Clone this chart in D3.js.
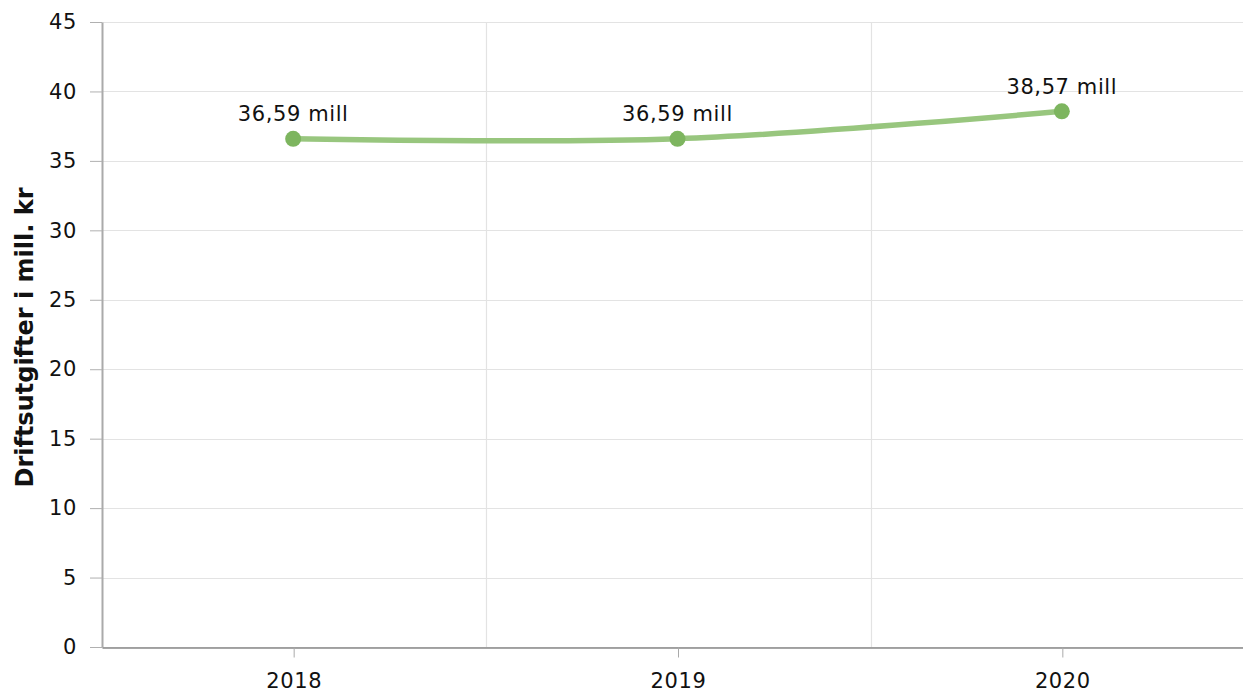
<!DOCTYPE html>
<html>
<head>
<meta charset="utf-8">
<script src="https://cdn.jsdelivr.net/npm/d3@7"></script>
<style>
  body { margin: 0; background: #fff; }
  svg { display: block; font-family: "DejaVu Sans", Verdana, sans-serif; }
</style>
</head>
<body>
<div id="chart"></div>
<script>
// Data
const years = ["2018", "2019", "2020"];
const values = [36.59, 36.59, 38.57];
const labels = ["36,59 mill", "36,59 mill", "38,57 mill"];
const yTicks = [0, 5, 10, 15, 20, 25, 30, 35, 40, 45];

const width = 1243;
const height = 693;
const margin = { top: 22, right: -12, bottom: 46, left: 102 };
const fontSize = 21;
const spacing = 0.6;

const x = d3.scaleBand()
    .domain(years)
    .range([margin.left, width - margin.right]);

const y = d3.scaleLinear()
    .domain([0, 45])
    .range([height - margin.bottom, margin.top]);

const svg = d3.select("#chart").append("svg")
    .attr("width", width)
    .attr("height", height);

// Horizontal grid lines
svg.append("g")
    .selectAll("line")
    .data(yTicks)
    .join("line")
    .attr("x1", margin.left)
    .attr("x2", width)
    .attr("y1", d => Math.round(y(d)) + 0.5)
    .attr("y2", d => Math.round(y(d)) + 0.5)
    .attr("stroke", "#e3e3e3")
    .attr("stroke-width", 1.2);

// Vertical grid lines at band boundaries
svg.append("g")
    .selectAll("line")
    .data(years.slice(1))
    .join("line")
    .attr("x1", d => Math.round(x(d)) + 0.5)
    .attr("x2", d => Math.round(x(d)) + 0.5)
    .attr("y1", margin.top)
    .attr("y2", y(0))
    .attr("stroke", "#e3e3e3")
    .attr("stroke-width", 1.2);

// Y axis
const yAxis = svg.append("g")
    .attr("transform", `translate(${margin.left},0)`)
    .call(d3.axisLeft(y).tickValues(yTicks).tickSize(12).tickPadding(13).tickSizeOuter(0));
yAxis.select(".domain").attr("stroke", "#aaa").attr("stroke-width", 2);
yAxis.selectAll(".tick line").attr("stroke", "#b0b0b0");
yAxis.selectAll(".tick text")
    .attr("font-size", fontSize)
    .attr("letter-spacing", spacing)
    .attr("font-family", "DejaVu Sans, Verdana, sans-serif")
    .attr("fill", "#111");

// X axis
const xAxis = svg.append("g")
    .attr("transform", `translate(0,${Math.round(y(0)) + 0.5})`)
    .call(d3.axisBottom(x).tickSize(10).tickPadding(16).tickSizeOuter(0));
xAxis.select(".domain").attr("stroke", "#888").attr("stroke-width", 1.5);
xAxis.selectAll(".tick line").attr("stroke", "#aaa");
xAxis.selectAll(".tick text")
    .attr("font-size", fontSize)
    .attr("letter-spacing", spacing)
    .attr("font-family", "DejaVu Sans, Verdana, sans-serif")
    .attr("fill", "#111");

// Y axis title
svg.append("text")
    .attr("transform", `translate(33,${(y(0) + y(45)) / 2 + 3}) rotate(-90)`)
    .attr("text-anchor", "middle")
    .attr("font-size", 24)
    .attr("font-weight", "bold")
    .attr("fill", "#111")
    .text("Driftsutgifter i mill. kr");

const points = years.map((yr, i) => ({ year: yr, value: values[i], label: labels[i] }));
const cx = d => x(d.year) + x.bandwidth() / 2 - 1;

// Spline line
svg.append("path")
    .datum(points)
    .attr("fill", "none")
    .attr("stroke", "#98c67e")
    .attr("stroke-width", 5.5)
    .attr("stroke-linecap", "round")
    .attr("d", d3.line()
        .x(cx)
        .y(d => y(d.value))
        .curve(d3.curveCatmullRom.alpha(0.5)));

// Markers
svg.append("g")
    .selectAll("circle")
    .data(points)
    .join("circle")
    .attr("cx", cx)
    .attr("cy", d => y(d.value))
    .attr("r", 8)
    .attr("fill", "#7db55f");

// Data labels
svg.append("g")
    .selectAll("text")
    .data(points)
    .join("text")
    .attr("x", d => cx(d))
    .attr("y", d => y(d.value) - 17.5)
    .attr("text-anchor", "middle")
    .attr("font-size", fontSize)
    .attr("letter-spacing", spacing)
    .attr("fill", "#111")
    .text(d => d.label);
</script>
</body>
</html>
